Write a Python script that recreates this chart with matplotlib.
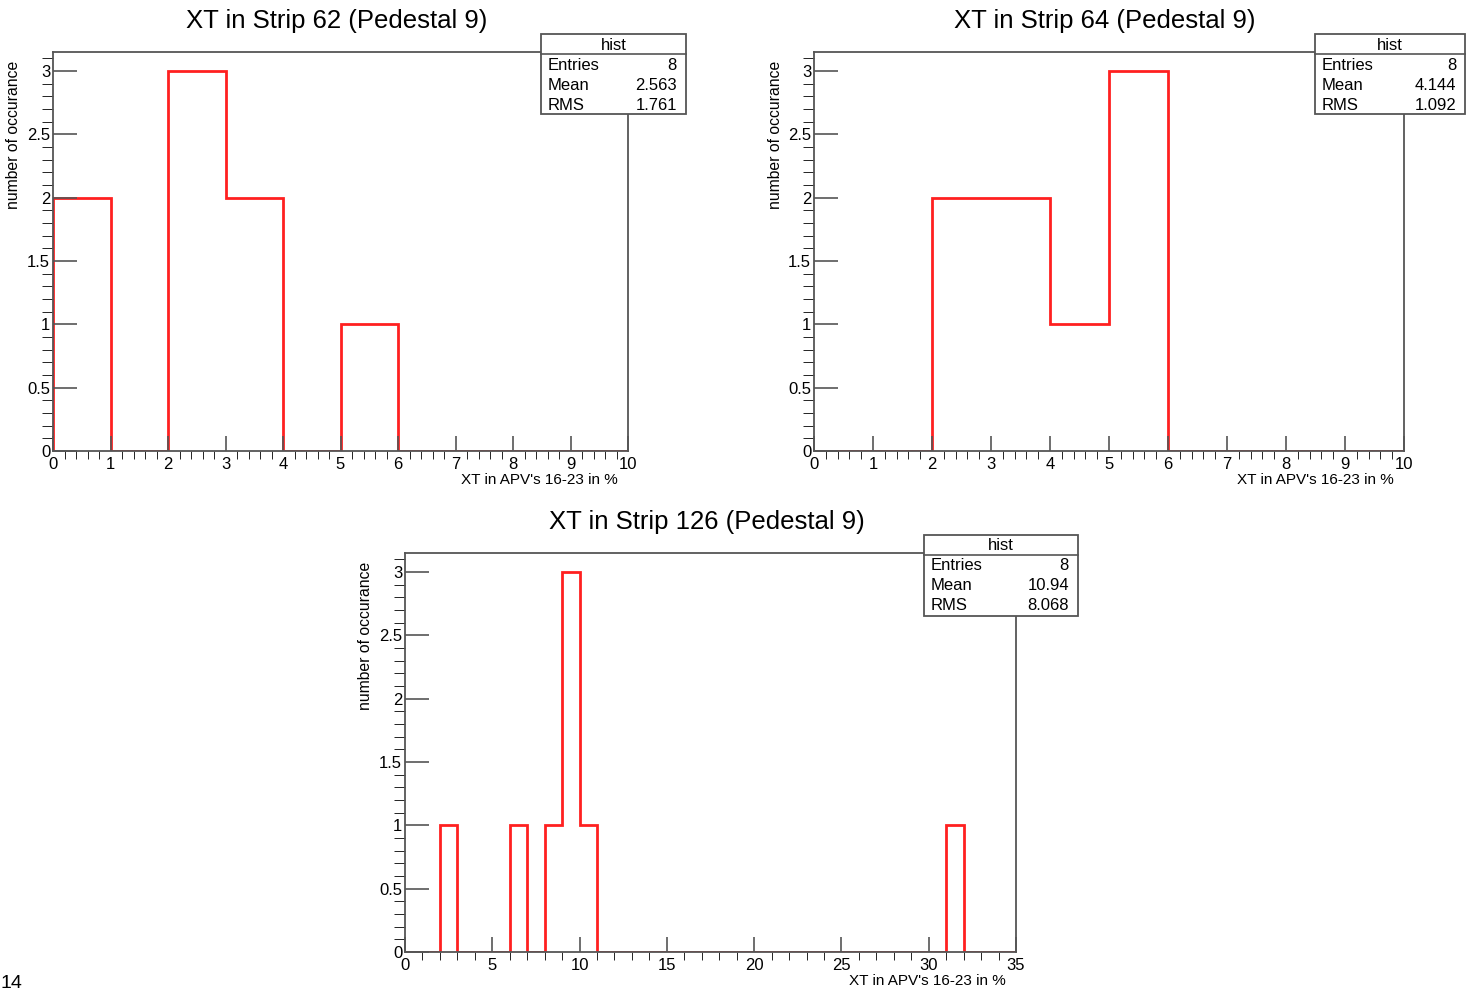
import matplotlib.pyplot as plt
import numpy as np
from matplotlib.patches import Rectangle
from matplotlib.lines import Line2D
from matplotlib.ticker import MultipleLocator

plt.rcParams["font.family"] = ["Liberation Sans", "DejaVu Sans"]

W, H = 1475, 992

# histogram contents (1% wide bins)
edges_62 = np.arange(0, 11, 1)
counts_62 = [2, 0, 3, 2, 0, 1, 0, 0, 0, 0]

edges_64 = np.arange(0, 11, 1)
counts_64 = [0, 0, 2, 2, 1, 3, 0, 0, 0, 0]

edges_126 = np.arange(0, 36, 1)
counts_126 = [0, 0, 1, 0, 0, 0, 1, 0, 1, 3, 1, 0, 0, 0, 0, 0, 0, 0,
              0, 0, 0, 0, 0, 0, 0, 0, 0, 0, 0, 0, 0, 1, 0, 0, 0]

titles = ["XT in Strip 62 (Pedestal 9)", "XT in Strip 64 (Pedestal 9)",
          "XT in Strip 126 (Pedestal 9)"]
stats = [("8", "2.563", "1.761"), ("8", "4.144", "1.092"), ("8", "10.94", "8.068")]

xlabel = "XT in APV's 16-23 in %"
ylabel = "number of occurance"

# pixel layout: axes (left, top, right, bottom), stats box (left, top, right, bottom)
panels = [
    dict(ax=(53, 52, 628, 451), box=(541, 34, 686, 114), edges=edges_62,
         counts=counts_62, xmaj=1, xmin=0.2),
    dict(ax=(814, 52, 1404, 451), box=(1315, 34, 1465, 114), edges=edges_64,
         counts=counts_64, xmaj=1, xmin=0.2),
    dict(ax=(405, 553, 1016, 952), box=(924, 535, 1078, 616), edges=edges_126,
         counts=counts_126, xmaj=5, xmin=1),
]

edge_col = "#555555"

fig = plt.figure(figsize=(W / 100, H / 100), dpi=100)


def fx(px):
    return px / W


def fy(py):
    return 1 - py / H


for i, p in enumerate(panels):
    l, t, r, b = p["ax"]
    ax = fig.add_axes([fx(l), fy(b), fx(r) - fx(l), fy(t) - fy(b)])
    ax.stairs(p["counts"], p["edges"], baseline=0, color="#ff2020", lw=2)
    ax.set_xlim(p["edges"][0], p["edges"][-1])
    ax.set_ylim(0, 3.15)
    ax.xaxis.set_major_locator(MultipleLocator(p["xmaj"]))
    ax.xaxis.set_minor_locator(MultipleLocator(p["xmin"]))
    ax.yaxis.set_major_locator(MultipleLocator(0.5))
    ax.yaxis.set_minor_locator(MultipleLocator(0.1))
    ax.yaxis.set_major_formatter(lambda v, pos: f"{v:g}")
    ax.tick_params(axis="both", direction="in", colors=edge_col, labelcolor="black",
                   labelsize=12, width=1.2)
    ax.tick_params(axis="y", which="major", length=17, pad=2)
    ax.tick_params(axis="y", which="minor", length=8)
    ax.tick_params(axis="x", which="major", length=11, pad=4)
    ax.tick_params(axis="x", which="minor", length=6)
    ax.tick_params(top=False, right=False, which="both")
    for s in ax.spines.values():
        s.set_color(edge_col)
        s.set_linewidth(1.3)

    fig.text(fx((l + r) / 2 - 4), fy(t - 31), titles[i], ha="center", va="center",
             fontsize=18.5)
    fig.text(fx(r - 10), fy(b + 29), xlabel, ha="right", va="center", fontsize=11)
    fig.text(fx(l - 39), fy(t + 9), ylabel, ha="center", va="top", rotation=90,
             fontsize=11.3)

    bl, bt, br, bb = p["box"]
    fig.patches.append(Rectangle((fx(bl), fy(bb)), fx(br) - fx(bl), fy(bt) - fy(bb),
                                 transform=fig.transFigure, facecolor="white",
                                 edgecolor=edge_col, lw=1.3, zorder=5))
    fig.lines.append(Line2D([fx(bl), fx(br)], [fy(bt + 20), fy(bt + 20)],
                            transform=fig.transFigure, color=edge_col, lw=1.2, zorder=6))
    fig.text(fx((bl + br) / 2), fy(bt + 11), "hist", ha="center", va="center",
             fontsize=12, zorder=7)
    for j, (name, val) in enumerate(zip(["Entries", "Mean", "RMS"], stats[i])):
        yy = fy(bt + 31 + j * 20)
        fig.text(fx(bl + 7), yy, name, ha="left", va="center", fontsize=12, zorder=7)
        fig.text(fx(br - 9), yy, val, ha="right", va="center", fontsize=12, zorder=7)

fig.text(0.0, 0.0, "14", ha="left", va="bottom", fontsize=14)

fig.savefig("out.png", dpi=100)
